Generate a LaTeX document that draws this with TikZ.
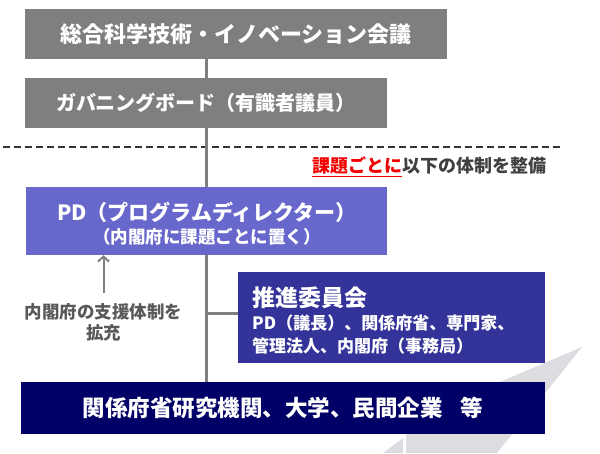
\documentclass[tikz,border=0pt]{standalone}
\usepackage{fontspec}
\setmainfont{Noto Sans CJK JP}
\usetikzlibrary{arrows.meta}
\definecolor{boxgray}{RGB}{127,127,127}
\definecolor{pdblue}{RGB}{104,104,204}
\definecolor{ctblue}{RGB}{51,51,153}
\definecolor{basenavy}{RGB}{0,0,102}
\definecolor{linegray}{RGB}{128,128,128}
\definecolor{decogray}{RGB}{220,220,225}
\definecolor{notegray}{RGB}{89,89,89}
\definecolor{headred}{RGB}{240,0,0}
\definecolor{headgray}{RGB}{64,64,64}
\newcommand{\jpsize}[1]{\fontsize{#1}{#1}\selectfont}

\begin{document}
\begin{tikzpicture}[x=1pt,y=-1pt,
	box/.style={inner sep=0pt, text=white, font=\bfseries},
	notetext/.style={inner sep=0pt, font=\bfseries},
	trunk/.style={draw=linegray, line width=3pt},
	arr/.style={draw=linegray, line width=2pt, -{Straight Barb[length=5pt,width=11pt]}}]

	\useasboundingbox (0,0) rectangle (600,453);

	% big arrow in the background
	\fill[decogray] (582,347) -- (497,453) -- (406,453) -- (406,422) -- cycle;
	\fill[decogray] (383,453) -- (403,438) -- (403,453) -- cycle;

	\node[box, fill=boxgray, minimum width=422pt, minimum height=50pt] (council) at (236,34) {\jpsize{22}総合科学技術・イノベーション会議};

	\node[box, fill=boxgray, minimum width=362pt, minimum height=50pt] (board) at (206,103) {\jpsize{20}ガバニングボード（有識者議員）};

	\coordinate (sepL) at (3,147);
	\coordinate (sepR) at (563,147);
	\draw[black!80, line width=1.8pt, dash pattern=on 7pt off 4pt] (sepL) -- (sepR);

	\node[notetext, anchor=west] (heading) at (312,167) {\jpsize{18}\textcolor{headred}{\underline{課題ごとに}}\textcolor{headgray}{以下の体制を整備}};

	\node[box, fill=pdblue, minimum width=361pt, minimum height=68pt] (pd) at (206,221) {};
	\node[box] (pdname) at (207,212) {\jpsize{21}PD（プログラムディレクター）};
	\node[box] (pdnote) at (207,237) {\jpsize{17.5}（内閣府に課題ごとに置く）};

	\node[box, fill=ctblue, minimum width=307pt, minimum height=91pt] (committee) at (391.5,317.5) {};
	\node[box, anchor=west] (cttitle) at (252,298) {\jpsize{23}推進委員会};
	\node[box, anchor=west] (ctline1) at (252,323) {\jpsize{17}PD（議長）、関係府省、専門家、};
	\node[box, anchor=west] (ctline2) at (252,346) {\jpsize{17}管理法人、内閣府（事務局）};

	\node[box, fill=basenavy, minimum width=524pt, minimum height=52pt] (base) at (283,408) {\jpsize{22.5}関係府省研究機関、大学、民間企業\hspace{0.8em}等};

	\node[notetext, text=notegray] (support) at (103.5,312) {\jpsize{17.5}内閣府の支援体制を};
	\node[notetext, text=notegray] (support2) at (103.5,333) {\jpsize{17.5}拡充};

	% connectors
	\draw[trunk] (council.south -| board.north) -- (board.north);
	\draw[trunk] (board.south) -- (pd.north);
	\draw[trunk] (pd.south) -- (pd.south |- base.north);
	\draw[trunk] ([yshift=4pt]pd.south |- committee.west) -- ([yshift=4pt]committee.west);
	\draw[arr] ([yshift=10pt]support.north) -- (support.north |- pd.south);
\end{tikzpicture}
\end{document}
